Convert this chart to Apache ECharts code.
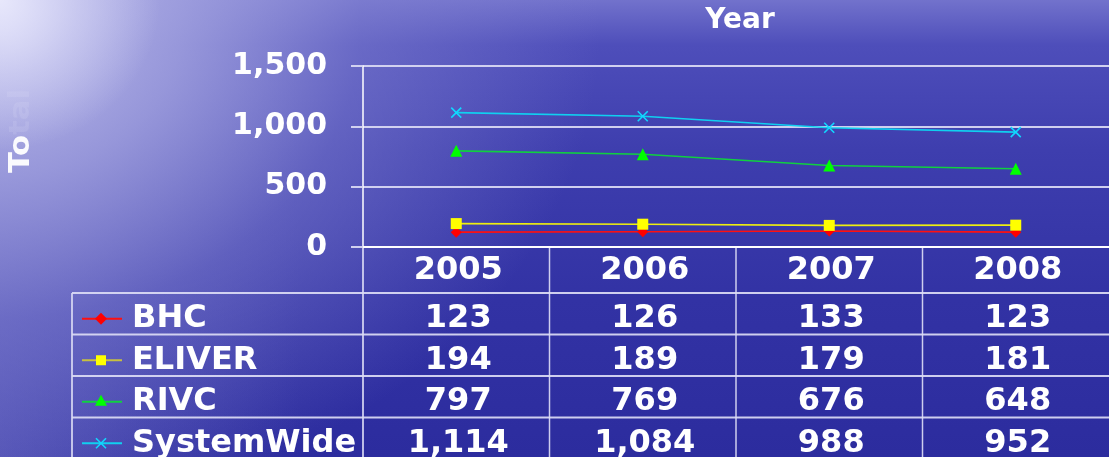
<!DOCTYPE html>
<html>
<head>
<meta charset="utf-8">
<script src="https://cdn.jsdelivr.net/npm/echarts@6/dist/echarts.min.js"></script>
<style>
html,body{margin:0;padding:0;width:1109px;height:457px;overflow:hidden;}
body{
  background:
    radial-gradient(ellipse 160px 150px at 0px 0px, rgba(240,240,255,0.85) 0%, rgba(230,230,252,0.45) 50%, rgba(220,220,250,0) 100%),
    radial-gradient(ellipse 600px 480px at 0px 30px, rgba(192,192,236,0.95) 0%, rgba(168,168,226,0.8) 30%, rgba(132,132,210,0.5) 60%, rgba(100,100,195,0) 100%),
    linear-gradient(to right, rgba(125,125,208,0.45) 0px, rgba(110,110,200,0.25) 140px, rgba(100,100,195,0) 300px),
    linear-gradient(to bottom, #7272cc 0px, #4e4eba 45px, #3e3eae 150px, #3232a4 300px, #2c2c9e 457px);
}
#chart{width:1109px;height:457px;}
</style>
</head>
<body>
<div id="chart"></div>
<script>
const categories = ['2005', '2006', '2007', '2008'];
const seriesNames = ['BHC', 'ELIVER', 'RIVC', 'SystemWide'];
const bhc = [123, 126, 133, 123];
const eliver = [194, 189, 179, 181];
const rivc = [797, 769, 676, 648];
const systemWide = [1114, 1084, 988, 952];
const yTickLabels = ['0', '500', '1,000', '1,500'];
const titleText = 'Year';
const yAxisNameVisible = 'To';
const yAxisNameFaded = 'tal';

const seriesData = [bhc, eliver, rivc, systemWide];
const lineColors = ['#ff1010', '#eeee10', '#10d040', '#10d0f0'];
const markerColors = ['#ff0000', '#ffff00', '#00ff00', '#10d8ff'];
const symbols = ['diamond', 'rect', 'triangle', 'path://M0,0L10,10M10,0L0,10'];
const symbolSizes = [11, 11, 12, 10];

const FONT = '"DejaVu Sans", sans-serif';
const chart = echarts.init(document.getElementById('chart'), null, {renderer: 'canvas'});

const fmt = v => v.toLocaleString('en-US');

chart.setOption({
  animation: false,
  backgroundColor: 'transparent',
  grid: {left: 363, right: -6, top: 66, bottom: 210, containLabel: false},
  xAxis: {
    type: 'category',
    data: categories,
    boundaryGap: true,
    axisLine: {show: true, lineStyle: {color: '#ffffff', width: 2}},
    axisTick: {show: false},
    axisLabel: {show: false},
    splitLine: {show: false}
  },
  yAxis: {
    type: 'value',
    min: 0, max: 1500, interval: 500,
    axisLine: {show: true, lineStyle: {color: '#ffffff', width: 1.5}},
    axisTick: {show: true, length: 12, lineStyle: {color: 'rgba(215,215,242,0.95)', width: 2}},
    axisLabel: {
      color: '#ffffff', fontFamily: FONT, fontWeight: 'bold', fontSize: 30, margin: 36,
      formatter: v => yTickLabels[Math.round(v / 500)]
    },
    splitLine: {show: true, lineStyle: {color: 'rgba(215,215,242,0.95)', width: 2}}
  },
  series: seriesNames.map((name, i) => ({
    name: name,
    type: 'line',
    data: seriesData[i],
    symbol: symbols[i],
    symbolSize: symbolSizes[i],
    showAllSymbol: true,
    lineStyle: {color: lineColors[i], width: 1.6},
    itemStyle: i === 3
      ? {color: 'none', borderColor: markerColors[i], borderWidth: 1.6}
      : {color: markerColors[i], borderWidth: 0},
    emphasis: {disabled: true},
    z: 3
  }))
});

// Build data table + title via graphic elements
const g = [];
const lineCol = 'rgba(220,220,245,0.92)';
const xs = categories.map((c, i) => chart.convertToPixel({xAxisIndex: 0}, c));
const plotLeft = 363;
const axisY = chart.convertToPixel({yAxisIndex: 0}, 0);
const band = xs[1] - xs[0];
const headerBottom = 293;
const rowH = 41.5;
const tableLeft = 72;
const tableBottom = headerBottom + rowH * 4 + 4;
const W = 1109;

function hline(x1, x2, y, w) {
  g.push({type: 'line', shape: {x1: x1, y1: y, x2: x2, y2: y}, style: {stroke: lineCol, lineWidth: w || 1.5}, silent: true});
}
function vline(x, y1, y2, w) {
  g.push({type: 'line', shape: {x1: x, y1: y1, x2: x, y2: y2}, style: {stroke: lineCol, lineWidth: w || 1.5}, silent: true});
}
function txt(s, x, y, align, size, sx) {
  g.push({type: 'text', x: x, y: y, scaleX: sx || 1.0, silent: true,
    style: {text: s, fill: '#ffffff', font: 'bold ' + (size || 32) + 'px ' + FONT, align: align || 'center', verticalAlign: 'middle'}});
}

// vertical lines
vline(plotLeft, axisY, tableBottom, 1.8);
for (let i = 1; i < categories.length; i++) vline(xs[i] - band / 2, axisY, tableBottom);
vline(tableLeft, headerBottom, tableBottom, 1.8);
// horizontal lines
for (let r = 0; r < seriesNames.length; r++) hline(tableLeft, W, headerBottom + rowH * r, 2);

// header
categories.forEach((c, i) => txt(c, xs[i] + 2, axisY + 24));

// rows
seriesNames.forEach((name, r) => {
  const cy = headerBottom + rowH * r + rowH / 2 + 5;
  g.push({type: 'line', shape: {x1: 82, y1: cy, x2: 122, y2: cy},
    style: {stroke: r === 1 ? '#c8c040' : lineColors[r], lineWidth: 2}, silent: true});
  let sym;
  if (r === 0) sym = {type: 'polygon', shape: {points: [[101, cy - 6], [107, cy], [101, cy + 6], [95, cy]]}, style: {fill: markerColors[r]}};
  else if (r === 1) sym = {type: 'rect', shape: {x: 96, y: cy - 5, width: 10, height: 10}, style: {fill: markerColors[r]}};
  else if (r === 2) sym = {type: 'polygon', shape: {points: [[101, cy - 7], [107, cy + 4], [95, cy + 4]]}, style: {fill: markerColors[r]}};
  else sym = {type: 'polyline', shape: {points: [[96, cy - 5], [106, cy + 5]]}, style: {stroke: markerColors[r], lineWidth: 1.6}};
  sym.silent = true;
  g.push(sym);
  if (r === 3) g.push({type: 'polyline', silent: true, shape: {points: [[106, cy - 5], [96, cy + 5]]}, style: {stroke: markerColors[r], lineWidth: 1.6}});
  txt(name, 132, cy, 'left', 32, 1.0);
  seriesData[r].forEach((v, i) => txt(fmt(v), xs[i] + 2, cy));
});

// title
txt(titleText, 740, 21, 'center', 28, 1.0);
// y axis name (rotated), partly fading into the light corner
g.push({type: 'text', x: 22, y: 173, rotation: Math.PI / 2, scaleX: 1.1, silent: true,
  style: {
    text: '{a|' + yAxisNameVisible + '}{b|' + yAxisNameFaded + '}',
    align: 'left', verticalAlign: 'middle',
    rich: {
      a: {fill: 'rgba(255,255,255,0.95)', font: 'bold 28px ' + FONT},
      b: {fill: 'rgba(240,240,255,0.12)', font: 'bold 28px ' + FONT}
    }
  }});

chart.setOption({graphic: g});
</script>
</body>
</html>
